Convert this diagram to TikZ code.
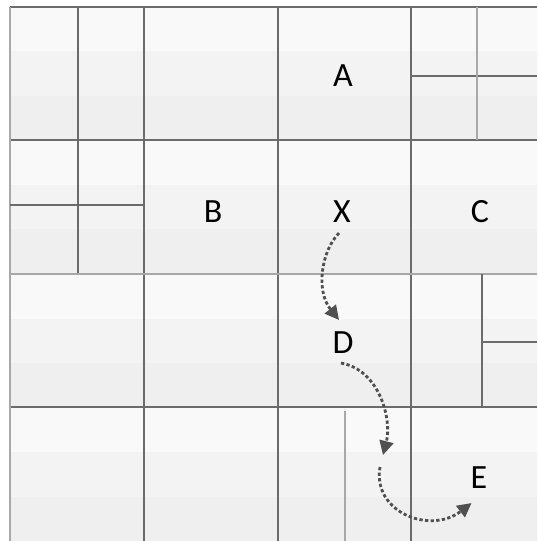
\documentclass[tikz,border=0pt]{standalone}
\usepackage{fontspec}
\setmainfont{Carlito}
\usetikzlibrary{arrows.meta}
\definecolor{bandA}{HTML}{F9F9F9}
\definecolor{bandB}{HTML}{F3F3F3}
\definecolor{bandC}{HTML}{EFEFEF}
\definecolor{gridc}{HTML}{6B6B6B}
\definecolor{softc}{HTML}{A8A8A8}
\definecolor{flowc}{HTML}{505050}

\begin{document}
\begin{tikzpicture}[x=0.015cm,y=-0.015cm,
      lbl/.style={font=\fontsize{14.5}{17}\selectfont,inner sep=2pt},
      grid/.style={draw=gridc,line width=0.5pt},
      soft/.style={draw=softc,line width=1pt},
      flow/.style={->,draw=flowc,line width=1.2pt,dash pattern=on 1.4pt off 1pt},
      >={Triangle[length=6pt,width=6pt]}]
    \useasboundingbox (0,0) rectangle (537,541);
    \clip (0,0) rectangle (537,541);
    \fill[white] (0,0) rectangle (537,541);
    % shaded cells
    \foreach \i in {0,...,3}{
      \foreach \j in {0,...,3}{
        \fill[bandA] ({10+133.5*\j},{7+133.5*\i}) rectangle ++(133.5,44.5);
        \fill[bandB] ({10+133.5*\j},{51.5+133.5*\i}) rectangle ++(133.5,44.5);
        \fill[bandC] ({10+133.5*\j},{96+133.5*\i}) rectangle ++(133.5,44.5);
      }
    }
    % main grid
    \foreach \gx in {144,278,411}
      \draw[grid] (\gx,7) -- (\gx,541);
    \foreach \gy in {140,407}
      \draw[grid] (10,\gy) -- (537,\gy);
    \draw[grid] (10,7) -- (537,7);
    \draw[soft] (10,7) -- (10,541);
    \draw[soft] (10,274) -- (537,274);
    % split cells
    \draw[grid] (78,7) -- (78,273);
    \draw[grid] (10,205) -- (144,205);
    \draw[grid] (411,76) -- (537,76);
    \draw[soft] (477,7) -- (477,140);
    \draw[grid] (482,274) -- (482,407);
    \draw[grid] (482,342) -- (537,342);
    \draw[soft] (345,411) -- (345,541);
    % labels
    \node[lbl] (A) at (343,76) {A};
    \node[lbl] (B) at (213,212) {B};
    \node[lbl] (X) at (342,212) {X};
    \node[lbl] (C) at (480,212) {C};
    \node[lbl] (D) at (343,343) {D};
    \node[lbl] (E) at (479,478) {E};
    \coordinate (m1) at (383,455);
    \coordinate (m2) at (380,467);
    % path
    \draw[flow] ([shift={(-3,5)}]X.south) .. controls (322,250) and (315,290) .. ([shift={(-4,-7)}]D.north);
    \draw[flow] ([shift={(-2,4)}]D.south) .. controls (380,370) and (392,420) .. (m1);
    \draw[flow] (m2) .. controls (372,512) and (430,535) .. ([shift={(6,9)}]E.south west);
  \end{tikzpicture}
\end{document}
